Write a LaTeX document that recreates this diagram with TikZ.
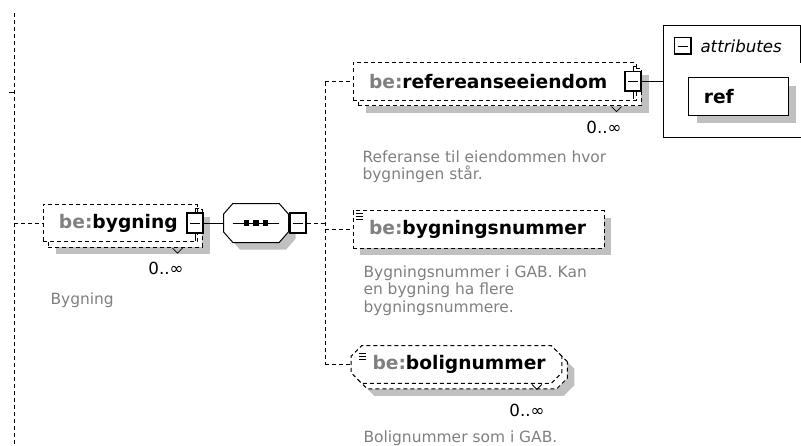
\documentclass[tikz,border=0pt]{standalone}
\usepackage{fontspec}
\setmainfont{DejaVu Sans}
\usetikzlibrary{shapes.misc,shadows}

\definecolor{shadegray}{RGB}{192,192,192}
\definecolor{prefixgray}{RGB}{128,128,128}
\definecolor{notegray}{RGB}{128,128,128}

\newcommand{\bepfx}{\textcolor{prefixgray}{be:}}

\begin{document}
\begin{tikzpicture}[x=0.75pt, y=-0.75pt, line width=0.75pt,
    link/.style={dash pattern=on 3pt off 2.25pt},
    flat shadow/.style={drop shadow={shadow xshift=#1, shadow yshift=-#1, fill=shadegray, opacity=1}},
    elem/.style={draw, link, fill=white, minimum height=28pt, inner xsep=12pt,
                 align=left, font=\fontsize{14}{16}\selectfont\bfseries},
    elem one/.style={elem, flat shadow=5.25pt},
    elem many/.style={elem, flat shadow=9.4pt,
                 copy shadow={shadow xshift=4.1pt, shadow yshift=-4.1pt}},
    seqbox/.style={draw=none, minimum width=48pt, minimum height=28.5pt, inner sep=0pt},
    ctl/.style={draw, solid, fill=white, line width=1.1pt, inner sep=0pt,
                 minimum width=12pt, minimum height=15pt,
                 path picture={
                   \draw[line width=0.75pt]
                     ([xshift=2.5pt]path picture bounding box.west) --
                     ([xshift=-2.5pt]path picture bounding box.east);
                   \draw[line width=2.2pt] (path picture bounding box.south west) --
                     (path picture bounding box.south east) -- (path picture bounding box.north east);}},
    attr/.style={draw, solid, fill=white, minimum height=28pt, inner xsep=11.25pt,
                 text width=52pt, align=left, font=\fontsize{14}{16}\selectfont\bfseries,
                 flat shadow=6pt},
    mult/.style={inner sep=0pt, font=\fontsize{12.5}{14}\selectfont},
    note/.style={inner sep=0pt, anchor=north west, align=left, text=notegray,
                 font=\fontsize{11.6}{13.2}\selectfont}]

  \useasboundingbox (0,0) rectangle (801,446);

  % left rail
  \coordinate (railtop) at (14,13);
  \coordinate (railbot) at (14,446);
  \coordinate (railtick) at (14,92);
  \draw[link] (railtop) -- (railbot);
  \draw (railtick) -- ++(-5,0);

  % bygning and its sequence
  \node[elem many, text width=91.5pt] (byg) at (120,223) {\bepfx bygning};
  \node[seqbox] (seq) at (256,223) {};
  \draw[fill=white, flat shadow=5.25pt]
    ([xshift=7pt]seq.north west) -- ([xshift=-7pt]seq.north east) --
    ([yshift=-8pt]seq.north east) -- ([yshift=8pt]seq.south east) --
    ([xshift=-7pt]seq.south east) -- ([xshift=7pt]seq.south west) --
    ([yshift=8pt]seq.south west) -- ([yshift=-8pt]seq.north west) -- cycle;
  \draw ([xshift=7pt]seq.west) -- ([xshift=-7pt]seq.east);
  \foreach \dx in {-9.5,0,9.5}
    \fill ([shift={(\dx,0)}]seq.center) +(-2.7,-2.7) rectangle +(2.7,2.7);
  \node[ctl] (bygm) at (195,223) {};
  \node[ctl] (seqm) at (298,223) {};

  % children
  \node[elem many, text width=188.25pt] (refe) at (494.5,81.5) {\bepfx refereanseeiendom};
  \node[ctl] (refem) at (633,81.5) {};
  \node[elem one, text width=164.25pt] (bnr) at (478.5,229.5) {\bepfx bygningsnummer};
  \node[elem many, chamfered rectangle, chamfered rectangle xsep=4pt,
        chamfered rectangle ysep=4pt, text width=126pt] (bol) at (456.5,364.5) {\bepfx bolignummer};

  % simple content marks
  \foreach \n in {bnr,bol}
    \foreach \i in {0,1,2}
      \draw[line width=0.6pt] ([shift={(3,3+3*\i)}]\n.north west) -- ++(7,0);

  % occurrence marks
  \foreach \n in {byg,refe,bol}
    \draw[line width=0.6pt] ([shift={(-25,6)}]\n.south east) -- ++(5,5) -- ++(5,-5);
  \foreach \n in {bygm,refem} {
    \draw[line width=0.6pt] (\n.north) -- ++(0,-4) -- ++(4,0);
    \draw[line width=0.6pt] (\n.south) -- ++(0,7);
  }

  % attributes
  \node[draw, anchor=north west, minimum width=114pt, minimum height=84pt,
        inner sep=0pt] (attrs) at (663,25) {};
  \draw (attrs.north west) ++(137,0) -- ++(0,38);
  \node[ctl, minimum width=13pt, minimum height=12.5pt, line width=1pt] (attrm) at (683,46) {};
  \node[anchor=west, inner sep=0pt, font=\fontsize{12.5}{14}\selectfont\itshape] (attrtitle)
    at (700,46) {attributes};
  \node[attr] (ref) at (738.5,96.5) {ref};

  % multiplicities
  \node[mult] (bygmult) at (166,268) {0..∞};
  \node[mult] (refemult) at (604,127) {0..∞};
  \node[mult] (bolmult) at (527,410) {0..∞};

  % documentation
  \node[note] (bygnote) at (50,292) {Bygning};
  \node[note] (refenote) at (362,150) {Referanse til eiendommen hvor\\bygningen står.};
  \node[note] (bnrnote) at (363,265) {Bygningsnummer i GAB. Kan\\en bygning ha flere\\bygningsnummere.};
  \node[note] (bolnote) at (363,430) {Bolignummer som i GAB.};

  % connectors
  \coordinate (fork) at (325,223);
  \draw[link] (railtop |- byg.west) -- (byg.west);
  \draw (bygm.east) -- (seq.west);
  \draw[link] (seqm.east) -- (fork);
  \draw[link] (fork |- refe.west) -- (fork |- bol.west);
  \draw[link] (fork |- refe.west) -- (refe.west);
  \draw[link] (fork |- bnr.west) -- (bnr.west);
  \draw[link] (fork |- bol.west) -- (bol.west);
  \draw (refem.east) -- (attrs.west |- refem.east);
\end{tikzpicture}
\end{document}
